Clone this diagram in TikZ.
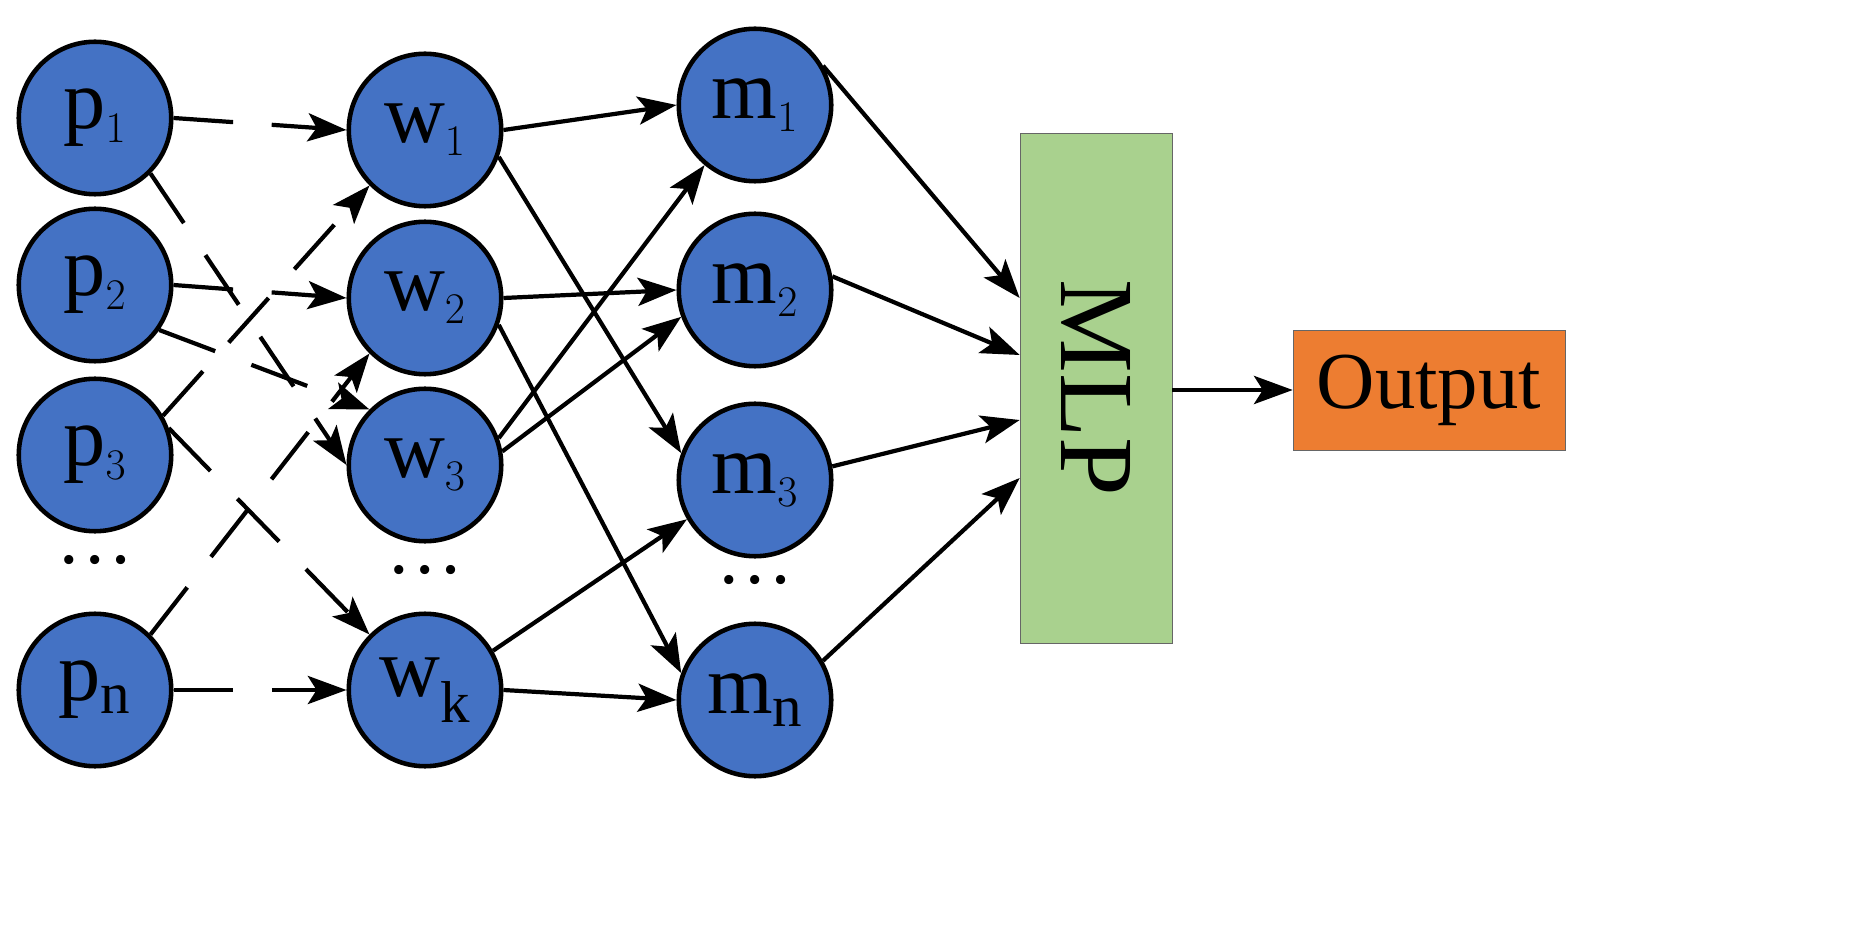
\documentclass[tikz,border=0pt]{standalone}
\usepackage{fontspec}
\setmainfont{Liberation Serif}
\usetikzlibrary{arrows.meta}
\begin{document}
\begin{tikzpicture}[x=0.02cm,y=-0.02cm,
  nd/.style={circle,draw=black,line width=2.6pt,fill={rgb,255:red,68;green,114;blue,196},minimum size=3.05cm,inner sep=0pt,font=\fontsize{48}{52}\selectfont},
  ar/.style={line width=2.4pt,-{Stealth[length=22pt,width=16pt,inset=5pt]}},
  da/.style={ar,dash pattern=on 34pt off 22pt},
  dots/.style={font=\fontsize{44}{48}\selectfont}]
\useasboundingbox (0,0) rectangle (1852,925);
\node[nd] (p1) at (95,118) {p$_1$};
\node[nd] (p2) at (95,285) {p$_2$};
\node[nd] (p3) at (95,455) {p$_3$};
\node[nd] (pn) at (95,690) {p$_\mathrm{n}$};
\node[nd] (w1) at (425,130) {w$_1$};
\node[nd] (w2) at (425,298) {w$_2$};
\node[nd] (w3) at (425,465) {w$_3$};
\node[nd] (wk) at (425,690) {w$_\mathrm{k}$};
\node[nd] (m1) at (755,105) {m$_1$};
\node[nd] (m2) at (755,290) {m$_2$};
\node[nd] (m3) at (755,480) {m$_3$};
\node[nd] (mn) at (755,700) {m$_\mathrm{n}$};
\node[dots] (d1) at (95,560) {\dots};
\node[dots] (d2) at (425,570) {\dots};
\node[dots] (d3) at (755,580) {\dots};
\node[draw=black!60,fill={rgb,255:red,169;green,209;blue,142},minimum width=3.04cm,minimum height=10.2cm,inner sep=0pt] (mlp) at (1096,388) {};
\node[rotate=-90,font=\fontsize{60}{64}\selectfont] (mlpt) at (1096,388) {MLP};
\node[draw=black!60,fill={rgb,255:red,237;green,125;blue,49},minimum width=5.44cm,minimum height=2.4cm,inner sep=0pt,font=\fontsize{46}{50}\selectfont] (out) at (1429,390) {Output};
\draw[da] (p1.east) -- (w1.west);
\draw[da] (p1.-45) -- (w3.180);
\draw[da] (p2.east) -- (w2.west);
\draw[da] (p2.-35) -- (w3.135);
\draw[da] (p3.30) -- (w1.-135);
\draw[da] (p3.20) -- (wk.135);
\draw[da] (pn.45) -- (w2.-135);
\draw[da] (pn.east) -- (wk.west);
\draw[ar] (w1.east) -- (m1.west);
\draw[ar] (w1.-20) -- (m3.160);
\draw[ar] (w2.east) -- (m2.west);
\draw[ar] (w2.-20) -- (mn.160);
\draw[ar] (w3.20) -- (m1.-130);
\draw[ar] (w3.10) -- (m2.-160);
\draw[ar] (wk.30) -- (m3.-150);
\draw[ar] (wk.east) -- (mn.west);
\draw[ar] (m1.30) -- (mlp.west |- 0,298);
\draw[ar] (m2.10) -- (mlp.west |- 0,355);
\draw[ar] (m3.10) -- (mlp.west |- 0,420);
\draw[ar] (mn.30) -- (mlp.west |- 0,478);
\draw[ar] (mlp.east |- out.west) -- (out.west);
\end{tikzpicture}
\end{document}
